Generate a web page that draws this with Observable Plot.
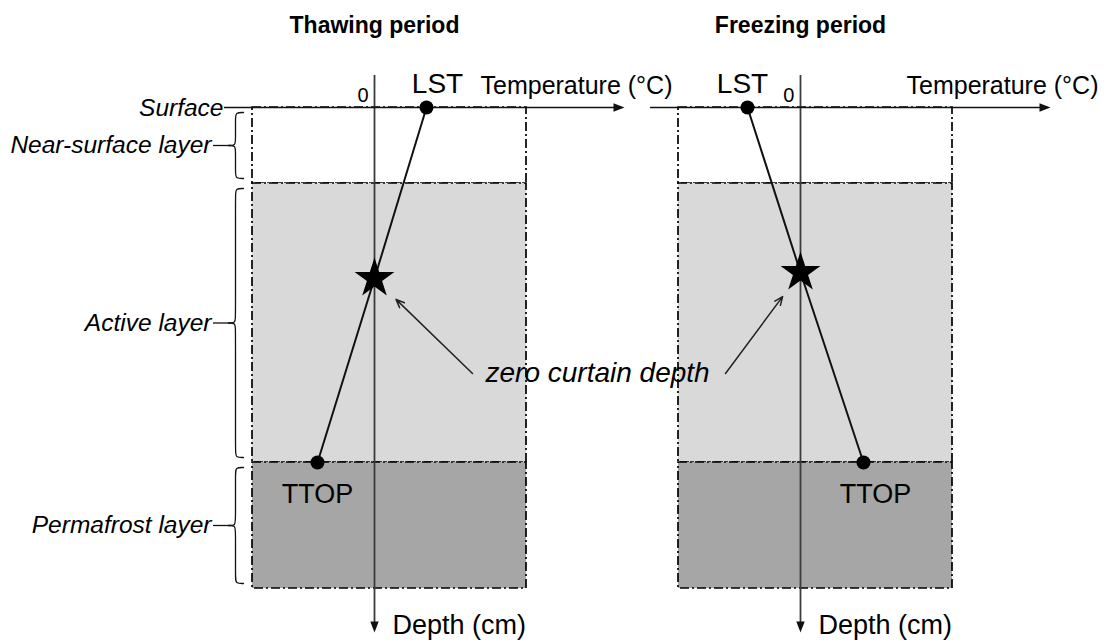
<!DOCTYPE html>
<html>
<head>
<meta charset="utf-8">
<script src="https://cdn.jsdelivr.net/npm/d3@7"></script>
<script src="https://cdn.jsdelivr.net/npm/@observablehq/plot@0.6"></script>
<style>
  html, body { margin: 0; padding: 0; background: #fff; overflow: hidden; }
</style>
</head>
<body>
<div id="chart"></div>
<script>
// Schematic soil temperature profiles (temperature in °C, depth in cm)
const periods = ["Thawing period", "Freezing period"];
const lstTemp = [5.2, -5.3];            // land surface temperature
const zeroCurtainDepth = [85.5, 82.5];  // depth where the profile crosses 0 °C
const ttopTemp = [-5.7, 6.3];           // temperature at the top of permafrost

const layerNames = ["Near-surface layer", "Active layer", "Permafrost layer"];
const layerTop = [0, 38, 177.5];
const layerBottom = [38, 177.5, 240.5];

const columnTemp = [-12.2, 15.2];   // horizontal extent of the soil column
const tempAxis = [-15, 25];         // temperature axis extent
const depthAxis = [-16, 262.5];     // depth axis extent
const calloutTemp = [9.8, -7.5];    // tails of the "zero curtain depth" pointers
const calloutDepth = 133;

// ---- tables built from the arrays above ----
const axes = periods.map(period => ({period}));
const layers = periods.flatMap(period =>
  layerNames.map((layer, i) => ({period, layer, top: layerTop[i], bottom: layerBottom[i]})));
const profile = periods.flatMap((period, i) => [
  {period, point: "LST", t: lstTemp[i], depth: 0},
  {period, point: "zero", t: 0, depth: zeroCurtainDepth[i]},
  {period, point: "TTOP", t: ttopTemp[i], depth: layerBottom[1]}
]);
const ends = profile.filter(d => d.point !== "zero");
const stars = profile.filter(d => d.point === "zero");
const callouts = periods.map((period, i) => ({
  period, t: calloutTemp[i], depth: calloutDepth, starT: 0, starDepth: zeroCurtainDepth[i]
}));
const pick = (rows, point, period) => rows.filter(d => d.point === point && d.period === period);

// Curly braces beside the soil layers (left panel only)
const braceHook = -13.1, braceSpine = -13.9, braceTip = -14.6;
function braceHalf(yEnd, yMid) {
  const s = Math.sign(yMid - yEnd);
  return [
    [braceHook, yEnd], [braceSpine, yEnd], [braceSpine, yEnd + 3 * s],
    [braceSpine, yMid - 3 * s], [braceSpine, yMid], [braceTip, yMid]
  ];
}
const braceRows = layerNames.map((layer, i) => {
  const a = layerTop[i] + 2.5, b = layerBottom[i] - 2.5;
  return {period: periods[0], layer, a, b, mid: (a + b) / 2};
});
const bracePoints = braceRows.flatMap(r => [
  ...braceHalf(r.a, r.mid).map(([x, y]) => ({period: r.period, key: r.layer + " upper", x, y})),
  ...braceHalf(r.b, r.mid).map(([x, y]) => ({period: r.period, key: r.layer + " lower", x, y}))
]);

// Filled arrowheads for the two axes
const headRight = {draw(ctx) { ctx.moveTo(0, 0); ctx.lineTo(-11, -4.2); ctx.lineTo(-11, 4.2); ctx.closePath(); }};
const headDown = {draw(ctx) { ctx.moveTo(0, 0); ctx.lineTo(-4.2, -11); ctx.lineTo(4.2, -11); ctx.closePath(); }};

const dashDot = "9,3,2,3";
const ink = "#111";

const chart = Plot.plot({
  width: 1107,
  height: 643,
  marginLeft: 200,
  marginRight: 81,
  marginTop: 0,
  marginBottom: 0,
  style: {fontFamily: "'Liberation Sans', Arial, sans-serif", background: "#fff", color: "#000"},
  fx: {domain: periods, axis: null, label: null, paddingInner: 0.06103, paddingOuter: 0, round: false},
  x: {domain: [-17.4, 22.6], axis: null},
  y: {domain: [0, depthAxis[1]], range: [107, 632], axis: null},
  color: {domain: layerNames, range: ["#ffffff", "#d9d9d9", "#a6a6a6"]},
  marks: [
    // soil layers
    Plot.rect(layers, {fx: "period", x1: columnTemp[0], x2: columnTemp[1], y1: "top", y2: "bottom",
      fill: "layer", stroke: "#000", strokeWidth: 1.7, strokeDasharray: dashDot}),

    // depth axis
    Plot.ruleX(axes, {fx: "period", x: 0, y1: depthAxis[0], y2: depthAxis[1] - 4, stroke: "#3c3c3c", strokeWidth: 1.8}),
    Plot.dot(axes, {fx: "period", x: 0, y: depthAxis[1], symbol: headDown, fill: ink, stroke: "none"}),

    // temperature axis (the ground surface)
    Plot.ruleY(axes, {fx: "period", y: 0, x1: tempAxis[0], x2: tempAxis[1] - 0.8, stroke: ink, strokeWidth: 1.6}),
    Plot.dot(axes, {fx: "period", x: tempAxis[1], y: 0, symbol: headRight, fill: ink, stroke: "none"}),

    // temperature profile LST -> zero curtain -> TTOP
    Plot.line(profile, {fx: "period", x: "t", y: "depth", z: "period", stroke: ink, strokeWidth: 2}),
    Plot.dot(ends, {fx: "period", x: "t", y: "depth", r: 7, fill: "#000", stroke: "none"}),
    Plot.dot(stars, {fx: "period", x: "t", y: "depth", symbol: "star", r: 12.5, fill: "#000", stroke: "none"}),

    // pointers to the zero curtain depth
    Plot.arrow(callouts, {fx: "period", x1: "t", y1: "depth", x2: "starT", y2: "starDepth",
      insetEnd: 30, headLength: 9, headAngle: 45, stroke: "#222", strokeWidth: 1.5}),
    Plot.text(callouts.filter(d => d.period === periods[0]), {fx: "period", x: "t", y: "depth",
      text: () => "zero curtain depth", dx: 13, textAnchor: "start", lineAnchor: "middle",
      fontStyle: "italic", fontSize: 28}),

    // panel titles and axis labels
    Plot.text(axes, {fx: "period", x: 0, y: 0, text: "period", dy: -75, lineAnchor: "bottom",
      fontSize: 23, fontWeight: "bold"}),
    Plot.text(axes, {fx: "period", x: 0, y: 0, text: () => "0", textAnchor: "end", dx: -6, dy: -6,
      lineAnchor: "bottom", fontSize: 20}),
    Plot.text(axes, {fx: "period", x: 0, y: 0, text: () => "Temperature (°C)", textAnchor: "start",
      dx: 106, dy: -14, lineAnchor: "bottom", fontSize: 25}),
    Plot.text(axes, {fx: "period", x: 0, y: depthAxis[1], text: () => "Depth (cm)", textAnchor: "start",
      dx: 18, dy: 1, lineAnchor: "bottom", fontSize: 27}),

    // point labels
    Plot.text(pick(ends, "LST", periods[0]), {fx: "period", x: "t", y: "depth", text: "point",
      dx: 11, dy: -15, lineAnchor: "bottom", fontSize: 28}),
    Plot.text(pick(ends, "LST", periods[1]), {fx: "period", x: "t", y: "depth", text: "point",
      dx: -5, dy: -15, lineAnchor: "bottom", fontSize: 28}),
    Plot.text(pick(ends, "TTOP", periods[0]), {fx: "period", x: "t", y: "depth",
      text: "point", dy: 21, lineAnchor: "top", fontSize: 27}),
    Plot.text(pick(ends, "TTOP", periods[1]), {fx: "period", x: "t", y: "depth",
      text: "point", dx: 12, dy: 21, lineAnchor: "top", fontSize: 27}),

    // layer annotations on the left
    Plot.text([{period: periods[0]}], {fx: "period", x: tempAxis[0], y: 0, text: () => "Surface",
      dx: -1, dy: 1, textAnchor: "end", lineAnchor: "middle", fontStyle: "italic", fontSize: 24.5}),
    Plot.line(bracePoints, {fx: "period", x: "x", y: "y", z: "key", curve: "basis",
      stroke: ink, strokeWidth: 1.3}),
    Plot.ruleY(braceRows, {fx: "period", y: "mid", x1: -16.1, x2: braceTip, stroke: ink, strokeWidth: 1.3}),
    Plot.text(braceRows, {fx: "period", x: -16.3, y: "mid", text: "layer", textAnchor: "end",
      lineAnchor: "middle", fontStyle: "italic", fontSize: 24.5})
  ]
});

document.getElementById("chart").appendChild(chart);
</script>
</body>
</html>
